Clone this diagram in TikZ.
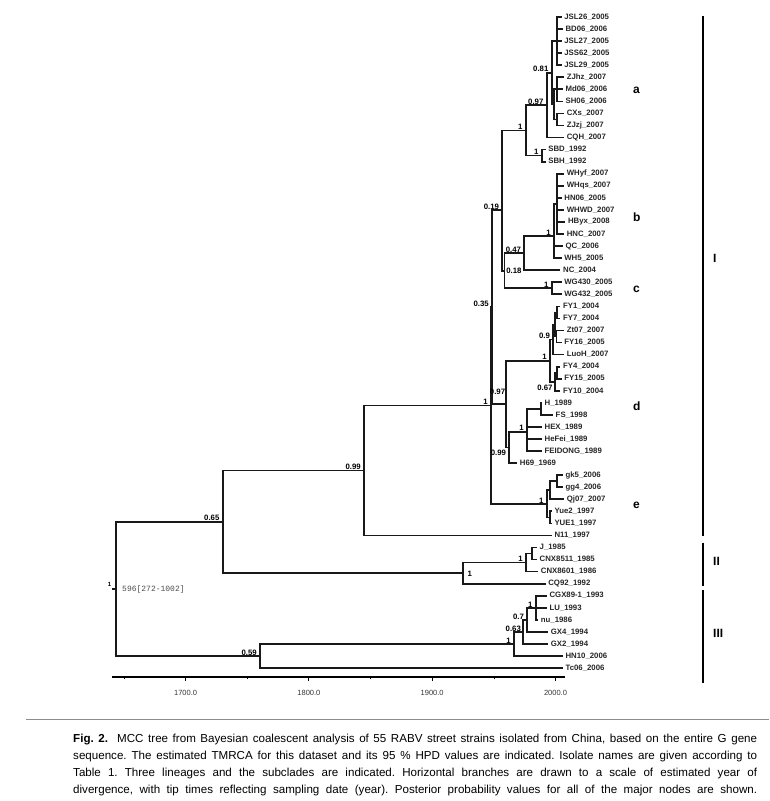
\documentclass[tikz,border=0pt]{standalone}
\usepackage{fontspec}
\setmainfont{Liberation Sans}
\setmonofont{Liberation Mono}
\newcommand{\tipfont}{\fontsize{7.8}{9}\selectfont\bfseries}

\begin{document}
\begin{tikzpicture}[x=1pt,y=-1pt,
    br/.style={line width=1.7pt,black!90},
    tip/.style={anchor=west,inner xsep=2.5pt,inner ysep=0pt,font=\tipfont,text=black!85},
    pp/.style={anchor=south east,inner sep=0.6pt,xshift=-2.5pt,font=\tipfont},
    clade/.style={anchor=west,inner sep=0pt,font=\fontsize{12}{14}\selectfont\bfseries},
    bar/.style={line width=1.8pt},
    axlab/.style={inner sep=0pt,font=\fontsize{7.5}{9}\selectfont,text=black!80}]
\useasboundingbox (0,0) rectangle (769,801);

% tips: x from sampling year, y in even steps
\foreach \nm/\yr [count=\i] in {JSL26/2005,BD06/2006,JSL27/2005,JSS62/2005,JSL29/2005,
    ZJhz/2007,Md06/2006,SH06/2006,CXs/2007,ZJzj/2007,CQH/2007,SBD/1992,SBH/1992,
    WHyf/2007,WHqs/2007,HN06/2005,WHWD/2007,HByx/2008,HNC/2007,QC/2006,WH5/2005,
    NC/2004,WG430/2005,WG432/2005,FY1/2004,FY7/2004,Zt07/2007,FY16/2005,LuoH/2007,
    FY4/2004,FY15/2005,FY10/2004,H/1989,FS/1998,HEX/1989,HeFei/1989,FEIDONG/1989,
    H69/1969,gk5/2006,gg4/2006,Qj07/2007,Yue2/1997,YUE1/1997,N11/1997,J/1985,
    CNX8511/1985,CNX8601/1986,CQ92/1992,CGX89-1/1993,LU/1993,nu/1986,GX4/1994,
    GX2/1994,HN10/2006,Tc06/2006}
{
  \coordinate (t\i) at ({555.5+(\yr-2000)*1.233},{17+(\i-1)*12.057});
  \node[tip] (l\i) at (t\i) {\nm\_\yr};
}

% lineage I
\coordinate (nJ) at (557,41.1);
\coordinate (nZ1) at (557,89.3);
\coordinate (nZ2) at (557,119.5);
\coordinate (nZ) at (554,104.4);
\coordinate (n081) at (551.7,72.7);
\coordinate (n097) at (546.7,105.1);
\coordinate (nSB) at (541.7,155.6);
\coordinate (nA) at (525.7,130.4);
\coordinate (nb1) at (557,204);
\coordinate (nb) at (554,236);
\coordinate (n047) at (524.3,253.1);
\coordinate (nc) at (551.7,288.3);
\coordinate (n018) at (504.5,270.7);
\coordinate (n019) at (502.3,210);
\coordinate (nFY17) at (556.7,312.4);
\coordinate (nZF) at (556.5,336.5);
\coordinate (nFYa) at (555,324.5);
\coordinate (n09) at (553.3,339.6);
\coordinate (nFY415) at (556.7,372.7);
\coordinate (n067) at (555,381.8);
\coordinate (nFY) at (550,360.7);
\coordinate (nHFS) at (541,409);
\coordinate (nH) at (527,431.7);
\coordinate (n099d) at (509.3,447.4);
\coordinate (n097d) at (505.7,404.1);
\coordinate (n035) at (492,307);
\coordinate (ne1) at (557.3,481.2);
\coordinate (ne2) at (550,490.3);
\coordinate (ne3) at (550,517.4);
\coordinate (ne) at (546.7,503.8);
\coordinate (nI) at (491,405.4);
\coordinate (n099) at (364,470.4);
% lineage II
\coordinate (nJC) at (532,553.6);
\coordinate (nCA) at (526,562.6);
\coordinate (nII) at (462.7,573.2);
\coordinate (n065) at (222.7,521.8);
% lineage III
\coordinate (nIII3) at (535.7,607.8);
\coordinate (n07) at (527.3,619.9);
\coordinate (n063) at (522.7,631.9);
\coordinate (nIII) at (514,644);
\coordinate (n059) at (260,656);
\coordinate (root) at (116,588.9);
\coordinate (rootdash) at (112,588.9);

\foreach \p/\c in {root/n065,root/n059,n065/n099,n065/nII,n099/nI,n099/t44,
    nI/n035,nI/ne,n035/n019,n035/n097d,n019/nA,n019/n018,nA/n097,nA/nSB,
    n097/n081,n097/t11,n081/nJ,n081/nZ,nJ/t1,nJ/t2,nJ/t3,nJ/t4,nJ/t5,
    nZ/nZ1,nZ/nZ2,nZ1/t6,nZ1/t7,nZ1/t8,nZ2/t9,nZ2/t10,nSB/t12,nSB/t13,
    n018/n047,n018/nc,n047/nb,n047/t22,nb/nb1,nb/t20,nb/t21,
    nb1/t14,nb1/t15,nb1/t16,nb1/t17,nb1/t18,nb1/t19,nc/t23,nc/t24,
    n097d/nFY,n097d/n099d,nFY/n09,nFY/n067,n09/nFYa,n09/t29,nFYa/nFY17,nFYa/nZF,
    nFY17/t25,nFY17/t26,nZF/t27,nZF/t28,n067/nFY415,n067/t32,nFY415/t30,nFY415/t31,
    n099d/nH,n099d/t38,nH/nHFS,nH/t35,nH/t36,nH/t37,nHFS/t33,nHFS/t34,
    ne/ne2,ne/ne3,ne2/ne1,ne2/t41,ne1/t39,ne1/t40,ne3/t42,ne3/t43,
    nII/nCA,nII/t48,nCA/nJC,nCA/t47,nJC/t45,nJC/t46,
    n059/nIII,n059/t55,nIII/n063,nIII/t54,n063/n07,n063/t53,n07/nIII3,n07/t52,
    nIII3/t49,nIII3/t50,nIII3/t51}
  \draw[br] (\p) |- (\c);
\draw[br] (root) -- (rootdash);

% posterior probabilities
\foreach \nd/\v in {n081/0.81,n097/0.97,nA/1,nSB/1,n019/0.19,nb/1,n047/0.47,nc/1,
    n035/0.35,n09/0.9,nFY/1,nI/1,nH/1,ne/1,n099/0.99,n065/0.65,nCA/1,nIII/1,
    n07/0.7,nIII3/1,n059/0.59}
  \node[pp] (p\nd) at (\nd) {\v};
\node[pp,xshift=1.5pt] (pn063) at (n063) {0.63};
\node[pp,anchor=west,xshift=3.5pt] (pn018) at (n018) {0.18};
\node[pp,xshift=0.8pt,yshift=-10pt] (pn067) at (n067) {0.67};
\node[pp,anchor=center,xshift=-5.7pt,yshift=12.4pt] (pn097d) at (n097d) {0.97};
\node[pp,anchor=north east,xshift=0pt,yshift=-1.5pt] (pn099d) at (n099d) {0.99};
\node[pp,anchor=west,xshift=6.5pt,yshift=-1pt] (pnII) at (nII) {1};
\node[pp,font=\fontsize{6}{7}\selectfont\bfseries,xshift=-1.5pt,yshift=2pt] (proot) at (root) {1};
\node[anchor=west,inner sep=0pt,font=\fontsize{8}{9}\selectfont\ttfamily,text=black!70] (hpd) at (122,589) {596[272-1002]};

% lineages and subclades
\node[clade] (ca) at (633,90) {a};
\node[clade] (cb) at (633,217) {b};
\node[clade] (cc) at (633,289) {c};
\node[clade] (cd) at (633,406) {d};
\node[clade] (ce) at (633,505) {e};
\draw[bar] (703,16) -- (703,536);
\draw[bar] (703,542.5) -- (703,586);
\draw[bar] (703,590) -- (703,683);
\node[clade] (LI) at (713,258.5) {I};
\node[clade] (LII) at (713,561) {II};
\node[clade] (LIII) at (713,633.5) {III};

% time axis
\draw[line width=1.5pt] (112,677) -- (565,677);
\foreach \yr in {1700,1800,1900,2000}
{
  \draw[line width=1pt] ({555.5+(\yr-2000)*1.233},677) -- ++(0,3.5);
  \node[axlab] at ({555.5+(\yr-2000)*1.233},693) {\yr.0};
}
\foreach \yr in {1650,1750,1850,1950}
  \draw[line width=0.6pt] ({555.5+(\yr-2000)*1.233},677) -- ++(0,2);

% caption
\draw[black!45,line width=0.8pt] (26,719) -- (769,719);
\node[anchor=north west,inner sep=0pt,text width=684pt,align=justify,
    font={\fontsize{11.6}{16.8}\selectfont\frenchspacing\parfillskip=0pt}] (cap) at (73,734.2)
  {\textbf{Fig. 2.}\ \ MCC tree from Bayesian coalescent analysis of 55 RABV street strains isolated from China, based on the entire G gene\linebreak
   sequence. The estimated TMRCA for this dataset and its 95~\% HPD values are indicated. Isolate names are given according to\linebreak
   Table 1. Three lineages and the subclades are indicated. Horizontal branches are drawn to a scale of estimated year of\linebreak
   divergence, with tip times reflecting sampling date (year). Posterior probability values for all of the major nodes are shown.};
\end{tikzpicture}
\end{document}
